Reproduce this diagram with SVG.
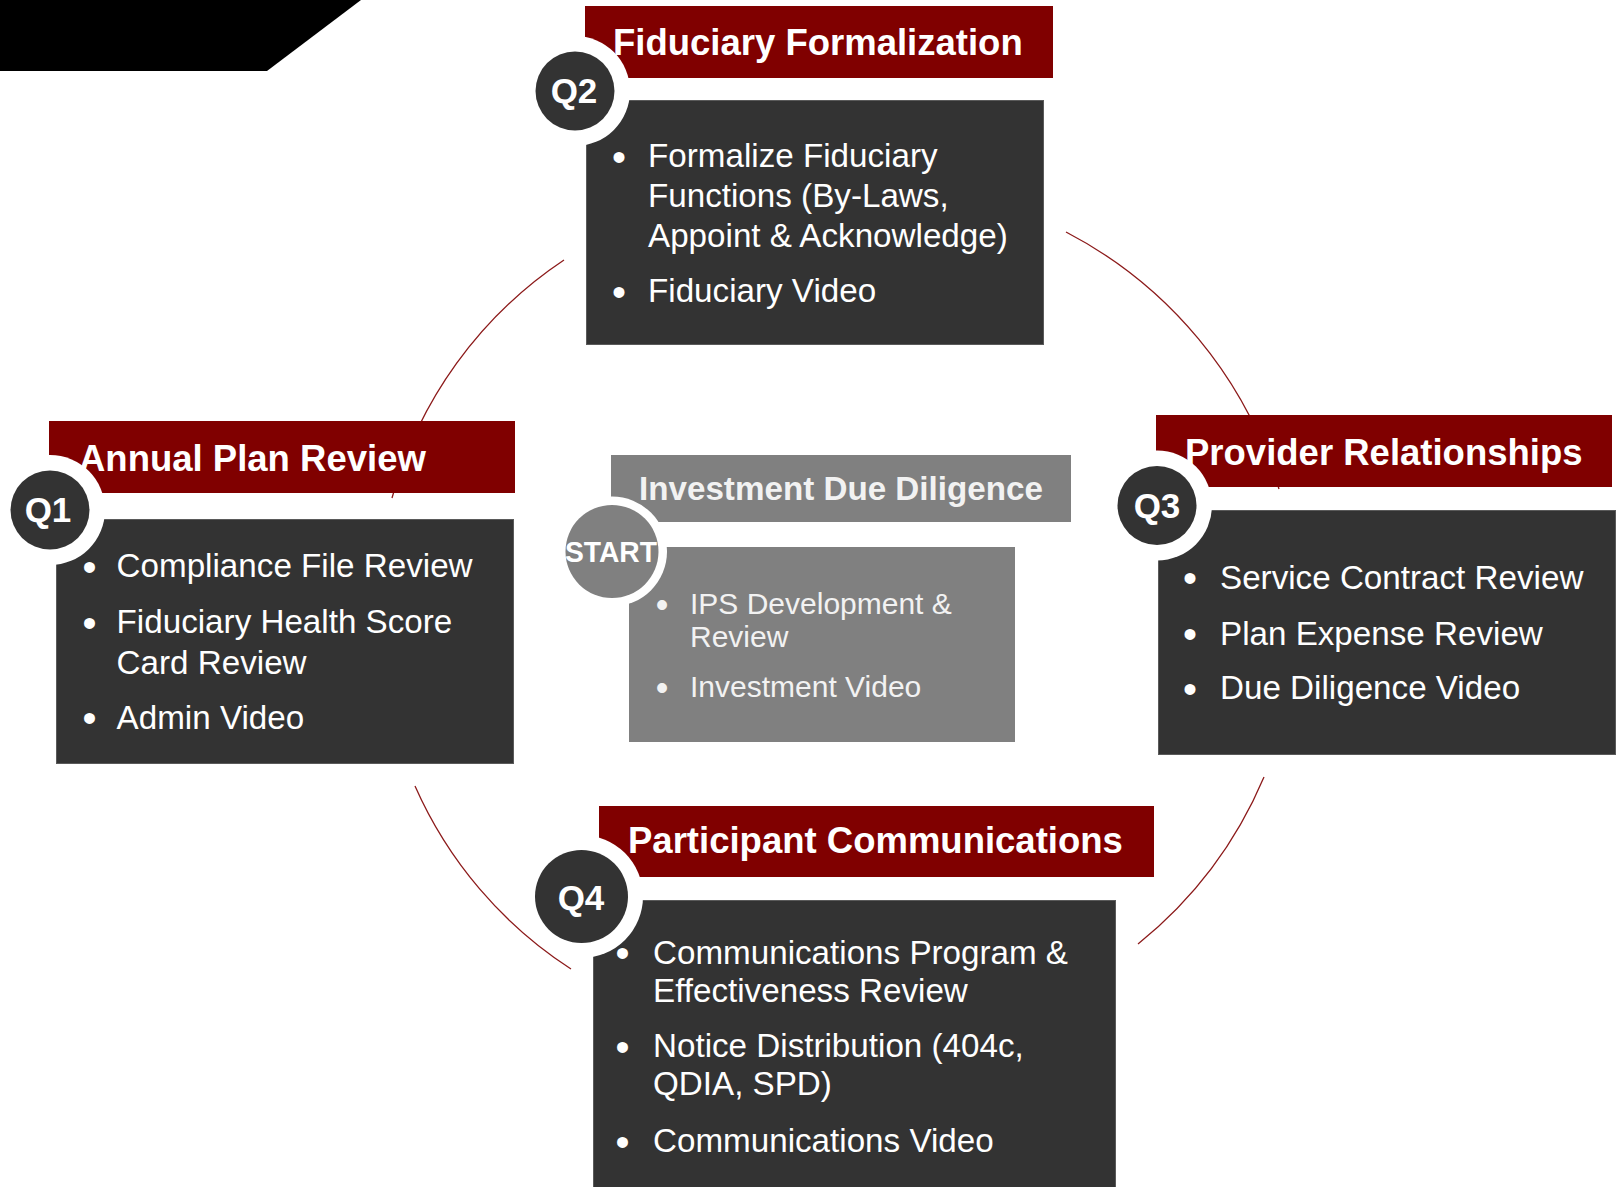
<svg xmlns="http://www.w3.org/2000/svg" width="1621" height="1187" viewBox="0 0 1621 1187">
  <style>
    .banner { fill: #800000; }
    .panel { fill: #333333; stroke: #5a5a5a; stroke-width: 1; }
    .gray { fill: #808080; }
    .ring { fill: #ffffff; }
    .badge { fill: #333333; }
    .title { font-family: "Liberation Sans", Arial, sans-serif; font-weight: bold; font-size: 36.5px; fill: #ffffff; }
    .qlabel { font-family: "Liberation Sans", Arial, sans-serif; font-weight: bold; font-size: 35px; fill: #ffffff; text-anchor: middle; }
    .body { font-family: "Liberation Sans", Arial, sans-serif; font-size: 33.2px; fill: #ffffff; }
    .bullet { font-family: "Liberation Sans", Arial, sans-serif; font-size: 40px; fill: #ffffff; }
    .ctitle { font-family: "Liberation Sans", Arial, sans-serif; font-weight: bold; font-size: 33.2px; fill: #f2f2f2; }
    .cbody { font-family: "Liberation Sans", Arial, sans-serif; font-size: 30px; fill: #f2f2f2; }
    .cbullet { font-family: "Liberation Sans", Arial, sans-serif; font-size: 36px; fill: #f2f2f2; }
    .arc { fill: none; stroke: #8c1a1a; stroke-width: 1.3; }
  </style>

  <!-- corner tab -->
  <polygon points="0,0 361,0 267,71 0,71" fill="#000000"/>

  <!-- cycle arcs -->
  <g id="connectors">
    <path class="arc" d="M 564 260 A 420 420 0 0 0 392 498"/>
    <path class="arc" d="M 1066 232 A 429 429 0 0 1 1279 489"/>
    <path class="arc" d="M 415 786 A 420 420 0 0 0 571 969"/>
    <path class="arc" d="M 1264 777 A 429 429 0 0 1 1138 944"/>
  </g>

  <!-- Q1 -->
  <g id="q1-annual-plan-review">
    <rect class="banner" x="49" y="421" width="466" height="72"/>
    <rect class="panel" x="56.5" y="519.5" width="457" height="244"/>
    <circle class="ring" cx="50" cy="510" r="55"/>
    <circle class="badge" cx="50" cy="510" r="39.5"/>
    <text class="qlabel" x="48" y="522">Q1</text>
    <text class="title" x="79" y="471">Annual Plan Review</text>
    <text class="bullet" x="82.6" y="580.5">•</text>
    <text class="body" x="116.6" y="577">Compliance File Review</text>
    <text class="bullet" x="82.6" y="636.5">•</text>
    <text class="body" x="116.6" y="633">Fiduciary Health Score</text>
    <text class="body" x="116.6" y="673.5">Card Review</text>
    <text class="bullet" x="82.6" y="732">•</text>
    <text class="body" x="116.6" y="728.5">Admin Video</text>
  </g>

  <!-- Q2 -->
  <g id="q2-fiduciary-formalization">
    <rect class="banner" x="585" y="6" width="468" height="72"/>
    <rect class="panel" x="586.5" y="100.5" width="457" height="244"/>
    <circle class="ring" cx="575" cy="91" r="55"/>
    <circle class="badge" cx="575" cy="91" r="39.5"/>
    <text class="qlabel" x="574" y="103">Q2</text>
    <text class="title" x="613" y="55">Fiduciary Formalization</text>
    <text class="bullet" x="612" y="170.5">•</text>
    <text class="body" x="648" y="167">Formalize Fiduciary</text>
    <text class="body" x="648" y="207">Functions (By-Laws,</text>
    <text class="body" x="648" y="247">Appoint &amp; Acknowledge)</text>
    <text class="bullet" x="612" y="305.5">•</text>
    <text class="body" x="648" y="302">Fiduciary Video</text>
  </g>

  <!-- Q3 -->
  <g id="q3-provider-relationships">
    <rect class="banner" x="1156" y="415" width="456" height="72"/>
    <rect class="panel" x="1158.5" y="510.5" width="457" height="244"/>
    <circle class="ring" cx="1157" cy="505.5" r="55"/>
    <circle class="badge" cx="1157" cy="505.5" r="39.5"/>
    <text class="qlabel" x="1157" y="518">Q3</text>
    <text class="title" x="1185" y="465">Provider Relationships</text>
    <text class="bullet" x="1183" y="592">•</text>
    <text class="body" x="1220" y="588.5">Service Contract Review</text>
    <text class="bullet" x="1183" y="648">•</text>
    <text class="body" x="1220" y="644.5">Plan Expense Review</text>
    <text class="bullet" x="1183" y="702.5">•</text>
    <text class="body" x="1220" y="699">Due Diligence Video</text>
  </g>

  <!-- Q4 -->
  <g id="q4-participant-communications">
    <rect class="banner" x="599" y="806" width="555" height="71"/>
    <rect class="panel" x="593.5" y="900.5" width="522" height="290"/>
    <circle class="ring" cx="581.5" cy="896.5" r="61.5"/>
    <circle class="badge" cx="581.5" cy="896.5" r="46.5"/>
    <text class="qlabel" x="581" y="910">Q4</text>
    <text class="title" x="628" y="853">Participant Communications</text>
    <text class="bullet" x="615.6" y="967">•</text>
    <text class="body" x="653" y="963.5">Communications Program &amp;</text>
    <text class="body" x="653" y="1002">Effectiveness Review</text>
    <text class="bullet" x="615.6" y="1060.5">•</text>
    <text class="body" x="653" y="1057">Notice Distribution (404c,</text>
    <text class="body" x="653" y="1095">QDIA, SPD)</text>
    <text class="bullet" x="615.6" y="1155.5">•</text>
    <text class="body" x="653" y="1152">Communications Video</text>
  </g>

  <!-- start: investment due diligence -->
  <g id="start-investment-due-diligence">
    <rect class="gray" x="611" y="455" width="460" height="67"/>
    <rect class="gray" x="629" y="547" width="386" height="195"/>
    <circle class="ring" cx="612" cy="551.5" r="55"/>
    <circle class="gray" cx="612" cy="551.5" r="46.5"/>
    <text class="qlabel" x="565" y="562" textLength="92" lengthAdjust="spacingAndGlyphs" style="text-anchor:start;font-size:30px">START</text>
    <text class="ctitle" x="639" y="500">Investment Due Diligence</text>
    <text class="cbullet" x="655.7" y="616.5">•</text>
    <text class="cbody" x="690" y="613.5">IPS Development &amp;</text>
    <text class="cbody" x="690" y="647">Review</text>
    <text class="cbullet" x="655.7" y="700">•</text>
    <text class="cbody" x="690" y="697">Investment Video</text>
  </g>
</svg>
